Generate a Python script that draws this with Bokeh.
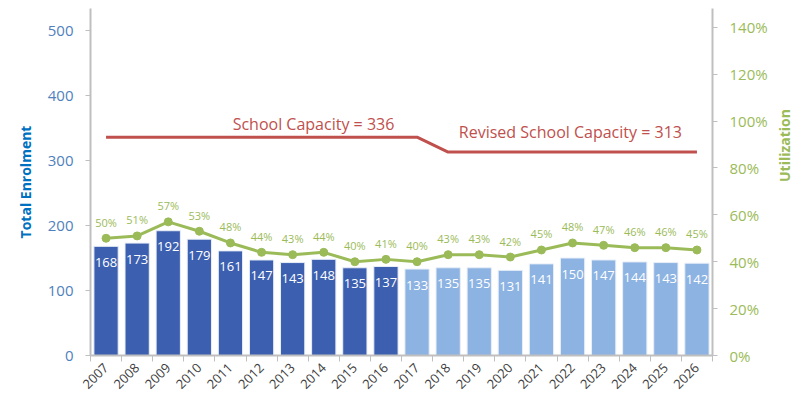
from bokeh.plotting import figure
from bokeh.models import (ColumnDataSource, Range1d, LinearAxis, FixedTicker,
                          NumeralTickFormatter)
from bokeh.core.properties import value
from bokeh.embed import file_html
from bokeh.resources import INLINE
import numpy as np

years = [str(y) for y in range(2007, 2027)]
enrolment = [168, 173, 192, 179, 161, 147, 143, 148, 135, 137,
             133, 135, 135, 131, 141, 150, 147, 144, 143, 142]
utilization = [0.50, 0.51, 0.57, 0.53, 0.48, 0.44, 0.43, 0.44, 0.40, 0.41,
               0.40, 0.43, 0.43, 0.42, 0.45, 0.48, 0.47, 0.46, 0.46, 0.45]
capacity = [336] * 11 + [313] * 9
is_projection = [False] * 10 + [True] * 10

FONT = "Open Sans"
DARK = "#3C5FAF"
LIGHT = "#8DB3E2"
GREEN = "#9BBB59"
RED = "#C0504D"
AXIS_GRAY = "#BFBFBF"

x = np.arange(len(years)) + 0.5
src = ColumnDataSource(dict(
    x=x, years=years, enrol=enrolment, enrol_lbl=[str(v) for v in enrolment],
    util=utilization, util_lbl=[f"{round(u*100)}%" for u in utilization],
    cap=capacity,
    color=[LIGHT if p else DARK for p in is_projection],
))

p = figure(frame_width=622, frame_height=347, output_backend="svg",
           toolbar_location=None, x_range=Range1d(0, len(years)),
           y_range=Range1d(0, 534), min_border_left=90, min_border_right=91,
           min_border_top=8, min_border_bottom=30)
p.outline_line_color = None
p.xgrid.grid_line_color = None
p.ygrid.grid_line_color = None
p.extra_y_ranges = {"util": Range1d(0, 1.48)}

# bars
p.vbar(x="x", top="enrol", width=0.78, source=src, fill_color="color",
       line_color="#E8EEF7", line_width=1)
p.text(x="x", y="enrol", text="enrol_lbl", source=src, text_color="white",
       text_font=value(FONT), text_font_size="13px", text_align="center",
       text_baseline="middle", y_offset=16)

# capacity line
p.line(x="x", y="cap", source=src, line_color=RED, line_width=3)
p.text(x=[7.17], y=[336], text=["School Capacity = 336"], text_color=RED,
       text_font=value(FONT), text_font_size="16px", text_align="center",
       text_baseline="middle", y_offset=-13)
p.text(x=[15.43], y=[313], text=["Revised School Capacity = 313"], text_color=RED,
       text_font=value(FONT), text_font_size="16px", text_align="center",
       text_baseline="middle", y_offset=-20)

# utilization line
p.line(x="x", y="util", source=src, y_range_name="util", line_color=GREEN,
       line_width=3)
p.scatter(x="x", y="util", source=src, y_range_name="util", size=8,
          fill_color=GREEN, line_color=GREEN)
p.text(x="x", y="util", text="util_lbl", source=src, y_range_name="util",
       text_color=GREEN, text_font=value(FONT), text_font_size="11px",
       text_align="center", text_baseline="middle", y_offset=-16)

# x axis
xa = p.xaxis[0]
xa.ticker = FixedTicker(ticks=list(x), minor_ticks=list(range(len(years) + 1)))
xa.major_label_overrides = {float(xx): yy for xx, yy in zip(x, years)}
xa.major_label_orientation = np.pi / 4
xa.major_tick_line_color = None
xa.major_tick_out = 0
xa.minor_tick_in = 0
xa.minor_tick_out = 6
xa.minor_tick_line_color = AXIS_GRAY
xa.axis_line_color = AXIS_GRAY
xa.axis_line_width = 2
xa.major_label_text_font = FONT
xa.major_label_text_font_size = "13px"
xa.major_label_text_color = "#404040"
xa.major_label_standoff = 4

# left axis
ya = p.yaxis[0]
ya.ticker = FixedTicker(ticks=[0, 100, 200, 300, 400, 500])
ya.minor_tick_line_color = None
ya.major_tick_in = 0
ya.major_tick_out = 5
ya.major_tick_line_color = AXIS_GRAY
ya.axis_line_color = AXIS_GRAY
ya.axis_line_width = 2
ya.major_label_text_font = FONT
ya.major_label_text_font_size = "15px"
ya.major_label_text_color = "#4F81BD"
ya.major_label_standoff = 12
ya.axis_label = "Total Enrolment"
ya.axis_label_text_font = FONT
ya.axis_label_text_font_size = "14px"
ya.axis_label_text_font_style = "bold"
ya.axis_label_text_color = "#0070C0"
ya.axis_label_standoff = 10

# right axis
ra = LinearAxis(y_range_name="util",
                ticker=FixedTicker(ticks=[0, 0.2, 0.4, 0.6, 0.8, 1.0, 1.2, 1.4]),
                formatter=NumeralTickFormatter(format="0%"))
ra.minor_tick_line_color = None
ra.major_tick_in = 0
ra.major_tick_out = 5
ra.major_tick_line_color = AXIS_GRAY
ra.axis_line_color = AXIS_GRAY
ra.axis_line_width = 2
ra.major_label_text_font = FONT
ra.major_label_text_font_size = "15px"
ra.major_label_text_color = GREEN
ra.major_label_standoff = 12
ra.axis_label = "Utilization"
ra.axis_label_orientation = np.pi / 2
ra.axis_label_text_font = FONT
ra.axis_label_text_font_size = "14px"
ra.axis_label_text_font_style = "bold"
ra.axis_label_text_color = GREEN
ra.axis_label_standoff = 14
p.add_layout(ra, "right")

open("out.html", "w").write(file_html(p, INLINE))
